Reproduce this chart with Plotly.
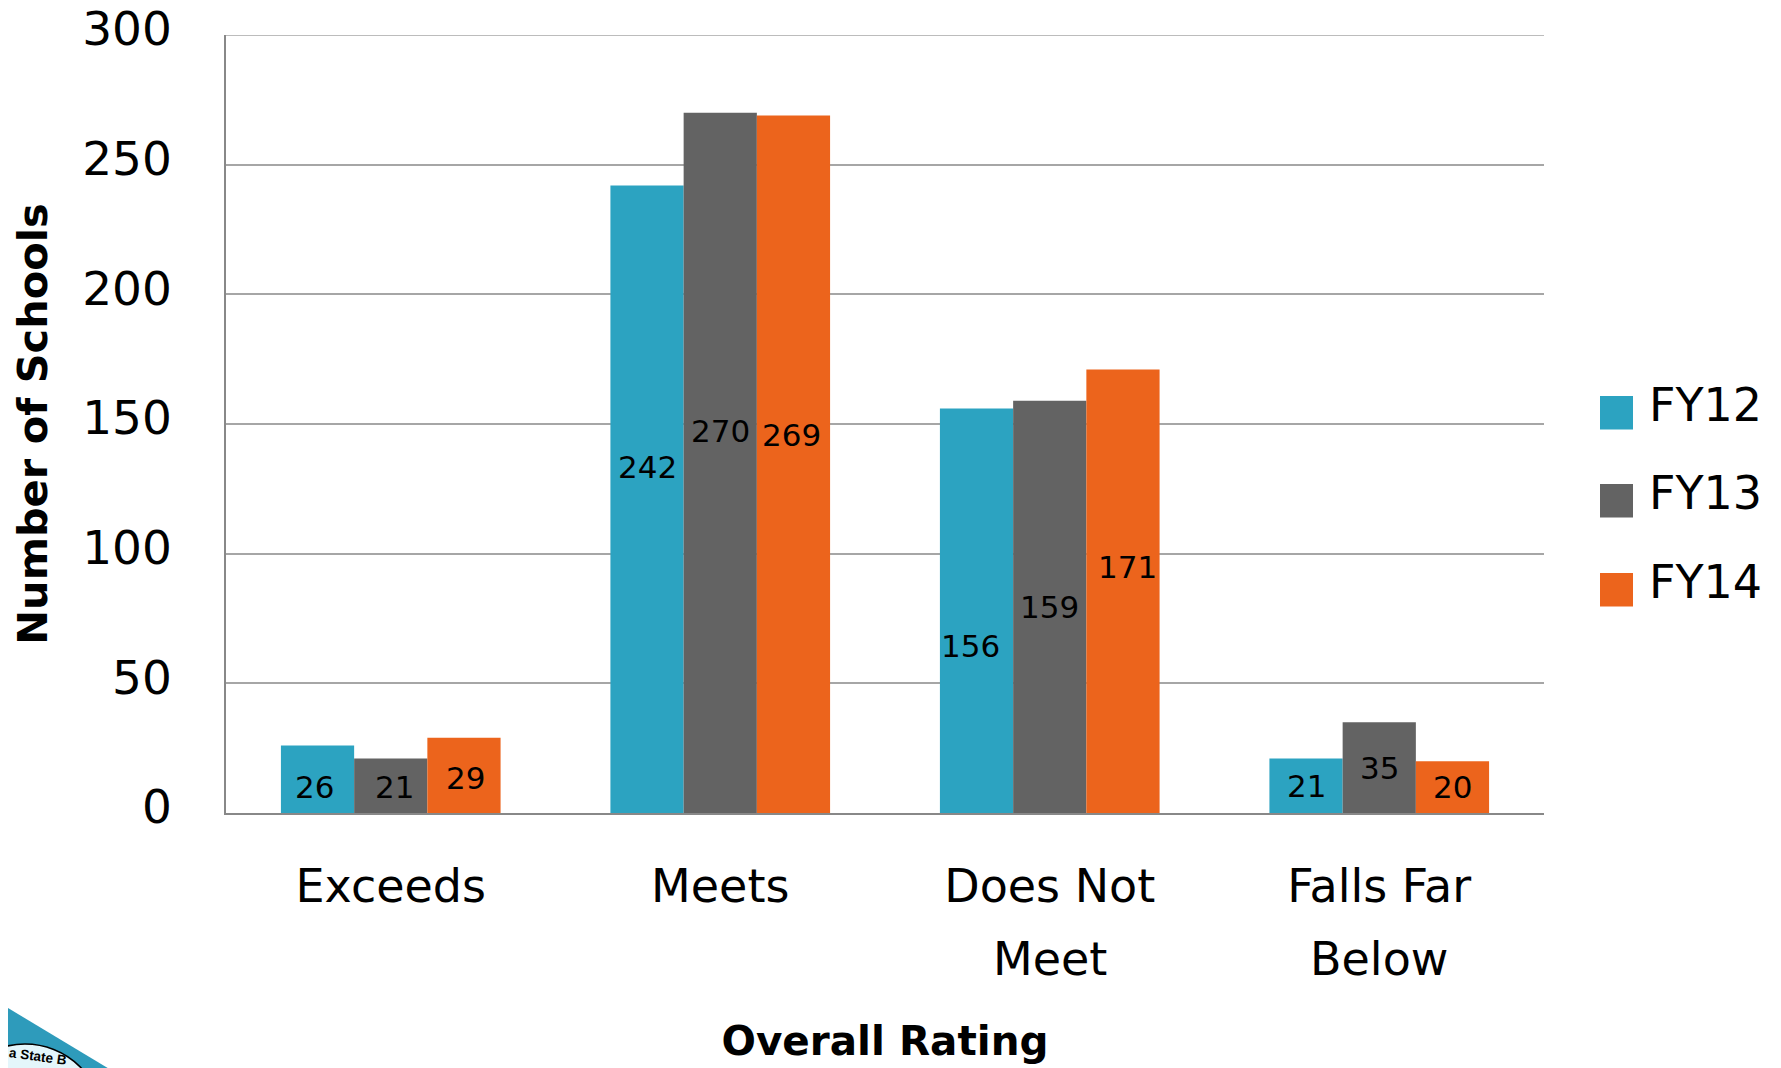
import plotly.graph_objects as go

categories = ["Exceeds", "Meets", "Does Not Meet", "Falls Far Below"]
tick_line1 = ["Exceeds", "Meets", "Does Not", "Falls Far"]
tick_line2 = ["", "", "Meet", "Below"]
fy12 = [26, 242, 156, 21]
fy13 = [21, 270, 159, 35]
fy14 = [29, 269, 171, 20]
series_names = ["FY12", "FY13", "FY14"]
colors = ["#2CA3C1", "#636363", "#EC641C"]
FONT = "DejaVu Sans"

# label nudges (px) relative to bar centre, per series per category
nudge_x = [[-3, 0, -6, 0], [4, 0, 0, 0], [2, -2, 5, 0]]
nudge_y = [[-8, 32, -35, 0], [-1, 32, 0, 0], [-3, 29, 24, 0]]

# plot area in figure pixels
L, T, W, H = 218, 27, 1318, 778
FIG_W, FIG_H = 1781, 1068


def px(x):
    return (x - L) / W


def py(y):
    return 1 - (y - T) / H


fig = go.Figure()
annotations = []
for s, (name, vals, col) in enumerate(zip(series_names, [fy12, fy13, fy14], colors)):
    fig.add_trace(go.Bar(name=name, x=categories, y=vals, showlegend=False,
                         marker=dict(color=col, line=dict(width=0))))
    for i, v in enumerate(vals):
        annotations.append(dict(x=i + (s - 1) * 2 / 9, y=v / 2, xref="x", yref="y", text=str(v),
                                showarrow=False, xshift=nudge_x[s][i], yshift=nudge_y[s][i],
                                yanchor="middle",
                                font=dict(family=FONT, size=31, color="#000000")))

# second line of the category labels
for i, t in enumerate(tick_line2):
    if t:
        annotations.append(dict(x=i, y=py(951), xref="x", yref="paper", text=t, showarrow=False,
                                yanchor="middle",
                                font=dict(family=FONT, size=46, color="#000000")))

# hand-drawn legend with large swatches
shapes = []
for name, col, top in zip(series_names, colors, [388, 476, 565]):
    shapes.append(dict(type="rect", xref="paper", yref="paper", x0=px(1592), x1=px(1625),
                       y0=py(top), y1=py(top + 33.5), fillcolor=col, line=dict(width=0)))
    annotations.append(dict(x=px(1639), y=py(top + 9), xref="paper", yref="paper", text=name,
                            xanchor="left", yanchor="middle", showarrow=False,
                            font=dict(family=FONT, size=46, color="#000000")))

# top gridline
shapes.append(dict(type="line", xref="paper", yref="y", x0=0, x1=1, y0=300, y1=300,
                   line=dict(color="#A6A6A6", width=1.5)))

# logo fragment, bottom-left corner
shapes.append(dict(type="path", xref="paper", yref="paper", line=dict(width=0), fillcolor="#2E9BBB",
                   path=f"M {px(0)} {py(1000)} L {px(113)} {py(1068)} L {px(0)} {py(1068)} Z"))
shapes.append(dict(type="circle", xref="paper", yref="paper", x0=px(-61), x1=px(95), y0=py(1036),
                   y1=py(1192), fillcolor="#E4F6FB", line=dict(color="#000000", width=1.5)))
annotations.append(dict(x=px(30), y=py(1048), xref="paper", yref="paper", text="<b>a State B</b>",
                        showarrow=False, textangle=8, xanchor="center", yanchor="middle",
                        font=dict(family="Liberation Sans", size=13.5, color="#000000")))

fig.update_layout(
    width=FIG_W, height=FIG_H, autosize=False, barmode="group", bargap=1 / 3, bargroupgap=0,
    paper_bgcolor="white", plot_bgcolor="white",
    margin=dict(l=L, r=FIG_W - L - W, t=T, b=FIG_H - T - H),
    font=dict(family=FONT, color="#000000"),
    showlegend=False, annotations=annotations, shapes=shapes,
    xaxis=dict(title=dict(text="<b>Overall Rating</b>", font=dict(size=40.5, family=FONT), standoff=115),
               tickmode="array", tickvals=categories, ticktext=tick_line1, automargin=False,
               tickfont=dict(size=46, family=FONT), ticklabelstandoff=32, showline=True,
               linecolor="#888888", linewidth=1.5, ticks=""),
    yaxis=dict(title=dict(text="<b>Number of Schools</b>", font=dict(size=41.5, family=FONT), standoff=26),
               tickfont=dict(size=47, family=FONT), range=[0, 300], dtick=50, ticklabelstandoff=43,
               ticklabelshift=-6, ticklabeloverflow="allow", automargin=False, gridcolor="#A6A6A6",
               gridwidth=1.5, showline=True, linecolor="#888888", linewidth=1.5, zeroline=False),
)
fig.write_html("out.html")
